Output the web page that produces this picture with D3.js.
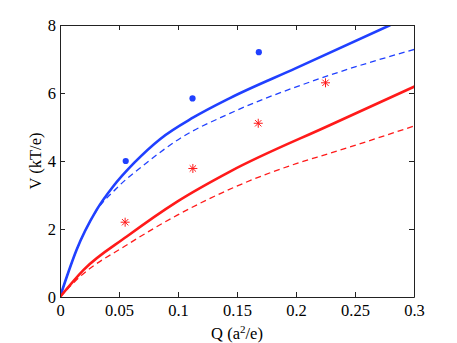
<!DOCTYPE html>
<html>
<head>
<meta charset="utf-8">
<script src="https://d3js.org/d3.v7.min.js"></script>
<style>
* { margin: 0; padding: 0; }
body { background: #fff; }
</style>
</head>
<body>
<script>
// values
let xTicks = [0, 0.05, 0.1, 0.15, 0.2, 0.25, 0.3];
let yTicks = [0, 2, 4, 6, 8];

let blueSolid = [[0,0],[0.007,0.72],[0.014,1.38],[0.031,2.56],[0.045,3.25],[0.063,3.95],[0.085,4.65],[0.113,5.28],[0.144,5.85],[0.2,6.73],[0.28,8.0]];
let blueDashed = [[0,0],[0.007,0.72],[0.014,1.38],[0.031,2.54],[0.048,3.2],[0.0735,3.95],[0.102,4.67],[0.144,5.4],[0.2206,6.43],[0.301,7.29]];
let redSolid = [[0,0],[0.02,0.8],[0.0566,1.78],[0.099,2.8],[0.144,3.69],[0.229,5.06],[0.301,6.2]];
let redDashed = [[0,0],[0.017,0.6],[0.0566,1.53],[0.099,2.4],[0.1485,3.24],[0.2008,3.93],[0.229,4.23],[0.301,5.04]];
let blueDots = [[0.0557,4.0],[0.1123,5.84],[0.1685,7.2]];
let redStars = [[0.0552,2.2],[0.1126,3.78],[0.168,5.11],[0.225,6.3]];

let w = 457, h = 343;
let mLeft = 60, mRight = 414, mTop = 25, mBottom = 297;
let blue = "#2040ff", red = "#ff1a1a";
let serif = "'Liberation Serif', 'Times New Roman', serif";
let fs = 16.5;

let x = d3.scaleLinear().domain([0, 0.3]).range([mLeft, mRight]);
let y = d3.scaleLinear().domain([0, 8]).range([mBottom, mTop]);

let svg = d3.select("body").append("svg")
  .attr("width", w)
  .attr("height", h)
  .style("font-family", serif);

svg.append("clipPath").attr("id", "plot")
  .append("rect")
  .attr("x", mLeft).attr("y", mTop)
  .attr("width", mRight - mLeft).attr("height", mBottom - mTop);

let line = d3.line().x(d => x(d[0])).y(d => y(d[1])).curve(d3.curveMonotoneX);

let plot = svg.append("g").attr("clip-path", "url(#plot)");

plot.append("path").attr("d", line(blueDashed))
  .attr("fill", "none").attr("stroke", blue).attr("stroke-width", 1.3).attr("stroke-dasharray", "6,4");
plot.append("path").attr("d", line(redDashed))
  .attr("fill", "none").attr("stroke", red).attr("stroke-width", 1.3).attr("stroke-dasharray", "6,4");
plot.append("path").attr("d", line(blueSolid))
  .attr("fill", "none").attr("stroke", blue).attr("stroke-width", 2.6);
plot.append("path").attr("d", line(redSolid))
  .attr("fill", "none").attr("stroke", red).attr("stroke-width", 2.6);

svg.append("g").selectAll("circle")
  .data(blueDots).enter().append("circle")
  .attr("cx", d => x(d[0])).attr("cy", d => y(d[1]))
  .attr("r", 3.1).attr("fill", blue);

// asterisk markers
let r = 4.5;
svg.append("g").selectAll("path")
  .data(redStars).enter().append("path")
  .attr("d", function(d) {
    let cx = x(d[0]), cy = y(d[1]), s = r * 0.707;
    return "M" + (cx - r) + "," + cy + "H" + (cx + r) +
      "M" + cx + "," + (cy - r) + "V" + (cy + r) +
      "M" + (cx - s) + "," + (cy - s) + "L" + (cx + s) + "," + (cy + s) +
      "M" + (cx - s) + "," + (cy + s) + "L" + (cx + s) + "," + (cy - s);
  })
  .attr("stroke", red).attr("stroke-width", 1).attr("fill", "none");

// axes: ticks inside, on every side
let tk = 5;
let xb = svg.append("g").attr("transform", "translate(0," + mBottom + ")")
  .call(d3.axisBottom(x).tickValues(xTicks).tickSizeInner(-tk).tickSizeOuter(0).tickPadding(7)
    .tickFormat(d => d3.format("")(d)));
let xt = svg.append("g").attr("transform", "translate(0," + mTop + ")")
  .call(d3.axisTop(x).tickValues(xTicks).tickSizeInner(-tk).tickSizeOuter(0).tickFormat(""));
let yl = svg.append("g").attr("transform", "translate(" + mLeft + ",0)")
  .call(d3.axisLeft(y).tickValues(yTicks).tickSizeInner(-tk).tickSizeOuter(0).tickPadding(4));
let yr = svg.append("g").attr("transform", "translate(" + mRight + ",0)")
  .call(d3.axisRight(y).tickValues(yTicks).tickSizeInner(-tk).tickSizeOuter(0).tickFormat(""));

[xb, xt, yl, yr].forEach(g => {
  g.attr("font-family", serif).attr("font-size", fs);
  g.selectAll("path").attr("stroke", "#222");
  g.selectAll("line").attr("stroke", "#222");
  g.selectAll("text").attr("fill", "#000");
});

// axis labels
let xl = svg.append("text")
  .attr("x", (mLeft + mRight) / 2).attr("y", 339)
  .attr("text-anchor", "middle").attr("font-size", fs)
  .attr("font-family", serif);
xl.append("tspan").text("Q (a");
xl.append("tspan").text("2").attr("font-size", 11).attr("dy", -6);
xl.append("tspan").text("/e)").attr("dy", 6);

svg.append("text")
  .attr("transform", "translate(41," + ((mTop + mBottom) / 2) + ") rotate(-90)")
  .attr("text-anchor", "middle").attr("font-size", fs)
  .attr("font-family", serif)
  .text("V (kT/e)");
</script>
</body>
</html>
